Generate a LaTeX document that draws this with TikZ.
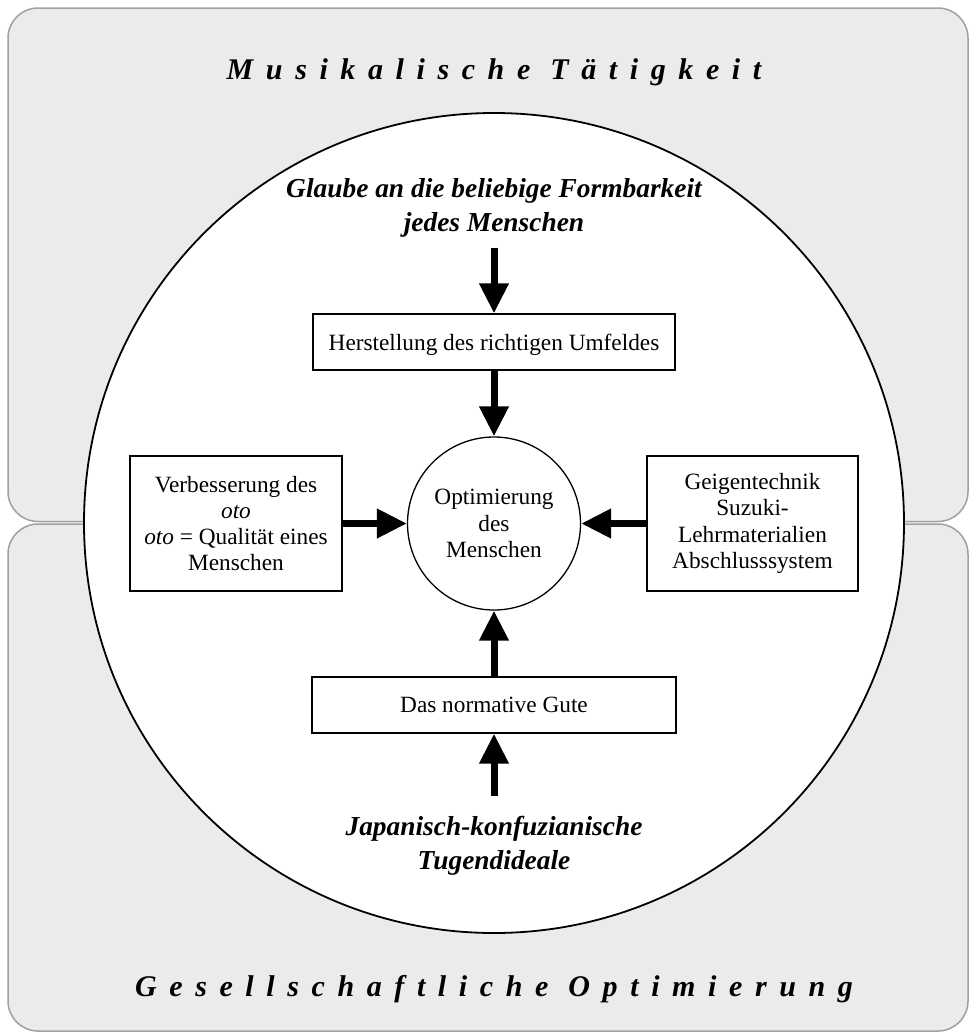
\documentclass[tikz,border=0pt]{standalone}
\usepackage{fontspec}
\setmainfont{Liberation Serif}
\newfontfamily\titlefont[LetterSpace=42]{Liberation Serif}
\usetikzlibrary{arrows.meta}
\definecolor{panelfill}{RGB}{235,235,235}
\definecolor{panelline}{RGB}{160,160,160}
\begin{document}
\begin{tikzpicture}[x=1pt,y=-1pt,
  panel/.style={draw=panelline, fill=panelfill, line width=1.5pt, rounded corners=30pt},
  bodytext/.style={font=\fontsize{23.3}{26.3}\selectfont, align=center, inner sep=0pt},
  stepbox/.style={bodytext, draw, line width=1.3pt, fill=white},
  headtext/.style={font=\fontsize{27.4}{34}\selectfont\bfseries\itshape, align=center, inner sep=0pt},
  titletext/.style={font=\titlefont\fontsize{30}{32}\selectfont\bfseries\itshape, inner sep=0pt, anchor=base},
  bigarrow/.style={line width=7pt, -{Triangle[length=30pt,width=28pt]}}
]
\useasboundingbox (0,0) rectangle (971,1034);
\draw[panel] (8,8) rectangle (968,521.5);
\draw[panel] (8,524) rectangle (968,1031);

\node[titletext] (ttop) at (494,79) {Musikalische Tätigkeit};
\node[titletext] (tbot) at (494,996) {Gesellschaftliche Optimierung};

\node[circle, draw, line width=1.8pt, fill=white, minimum size=820pt, inner sep=0pt] (big) at (494,523) {};

\node[headtext] (glaube) at (494,208) {Glaube an die beliebige Formbarkeit\\jedes Menschen};
\node[headtext] (japan) at (494,846) {Japanisch-konfuzianische\\Tugendideale};

\node[stepbox, text depth=0pt, minimum width=362pt, minimum height=56pt] (herst) at (494,342) {Herstellung des richtigen Umfeldes};
\node[stepbox, text depth=0pt, minimum width=364pt, minimum height=56pt] (norm) at (494,705) {Das normative Gute};
\node[bodytext, circle, draw, line width=1.3pt, minimum size=173pt] (opt) at (494,523.5) {Optimierung\\des\\Menschen};
\node[stepbox, minimum width=212pt, minimum height=135pt] (left) at (236,523.5) {Verbesserung des\\\textit{oto}\\\textit{oto} = Qualität eines\\Menschen};
\node[stepbox, minimum width=211pt, minimum height=135pt] (right) at (752.5,523.5) {Geigentechnik\\Suzuki-\\Lehrmaterialien\\Abschlusssystem};

\draw[bigarrow] ([yshift=-10pt]glaube.south) -- (herst.north);
\draw[bigarrow] (herst.south) -- (opt.north);
\draw[bigarrow] (norm.north) -- (opt.south);
\draw[bigarrow] ([yshift=20pt]japan.north) -- (norm.south);
\draw[bigarrow] (left.east) -- (opt.west);
\draw[bigarrow] (right.west) -- (opt.east);
\end{tikzpicture}
\end{document}
